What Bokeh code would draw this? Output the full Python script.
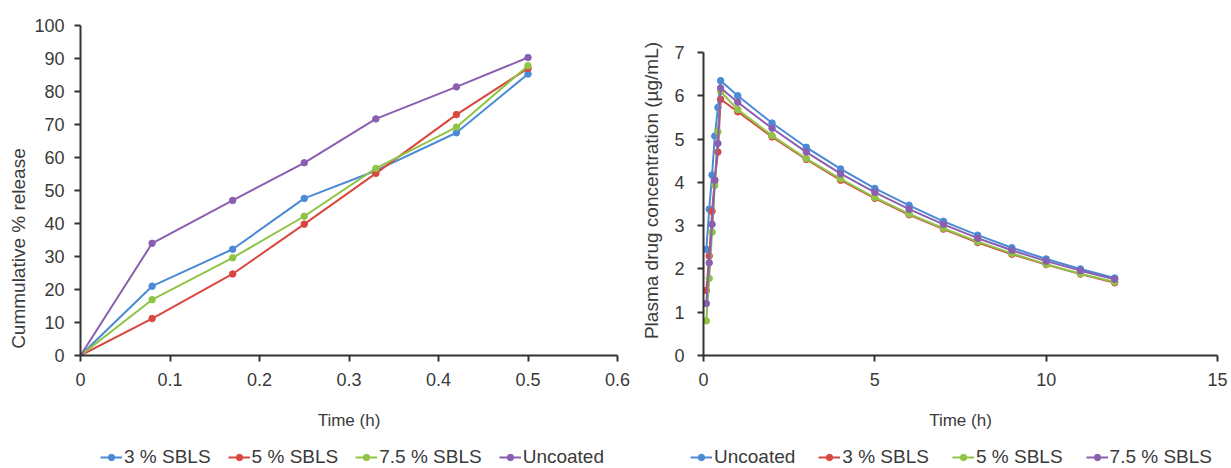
from bokeh.plotting import figure
from bokeh.layouts import row, column
from bokeh.models import Range1d, FixedTicker, Legend, LegendItem
from bokeh.embed import file_html
from bokeh.resources import INLINE

# ---- Left chart: in-vitro release ----
rel_time = [0, 0.08, 0.17, 0.25, 0.33, 0.42, 0.5]
rel_3 = [0, 21.0, 32.2, 47.6, 56.0, 67.5, 85.3]
rel_5 = [0, 11.2, 24.7, 39.8, 55.2, 73.0, 87.0]
rel_75 = [0, 16.9, 29.6, 42.2, 56.7, 69.2, 87.8]
rel_unc = [0, 34.0, 47.0, 58.4, 71.7, 81.4, 90.3]
rel_names = ["3 % SBLS", "5 % SBLS", "7.5 % SBLS", "Uncoated"]
rel_xticks = [0, 0.1, 0.2, 0.3, 0.4, 0.5, 0.6]
rel_yticks = [0, 10, 20, 30, 40, 50, 60, 70, 80, 90, 100]

# ---- Right chart: plasma concentration ----
pk_time = [0.083, 0.167, 0.25, 0.33, 0.42, 0.5, 1, 2, 3, 4, 5, 6, 7, 8, 9, 10, 11, 12]
pk_unc = [2.45, 3.38, 4.17, 5.07, 5.73, 6.35, 6.00, 5.37, 4.81, 4.31, 3.86, 3.47, 3.10, 2.78, 2.49, 2.23, 2.00, 1.79]
pk_3 = [1.50, 2.30, 3.33, 4.05, 4.70, 5.92, 5.63, 5.05, 4.53, 4.05, 3.63, 3.25, 2.92, 2.61, 2.34, 2.10, 1.88, 1.68]
pk_5 = [0.80, 1.78, 2.85, 3.93, 5.17, 6.10, 5.68, 5.08, 4.55, 4.08, 3.65, 3.27, 2.94, 2.63, 2.36, 2.11, 1.89, 1.70]
pk_75 = [1.20, 2.14, 3.03, 4.05, 4.90, 6.18, 5.85, 5.25, 4.70, 4.20, 3.77, 3.38, 3.03, 2.71, 2.43, 2.18, 1.96, 1.76]
pk_names = ["Uncoated", "3 % SBLS", "5 % SBLS", "7.5 % SBLS"]
pk_xticks = [0, 5, 10, 15]
pk_yticks = [0, 1, 2, 3, 4, 5, 6, 7]

BLUE = "#4a8ad6"
RED = "#d9473f"
GREEN = "#8fc446"
PURPLE = "#8a5fb0"

FONT = "Liberation Sans"
AXIS_COLOR = "#333333"
TEXT_COLOR = "#3a3a3a"


def style(p, xticks, yticks, xover=None):
    p.outline_line_color = None
    p.xgrid.grid_line_color = None
    p.ygrid.grid_line_color = None
    for ax in (p.xaxis[0], p.yaxis[0]):
        ax.axis_line_color = AXIS_COLOR
        ax.axis_line_width = 2
        ax.major_tick_line_color = AXIS_COLOR
        ax.major_tick_line_width = 2
        ax.major_tick_out = 6
        ax.major_tick_in = 0
        ax.minor_tick_line_color = None
        ax.major_label_text_font = FONT
        ax.major_label_text_font_size = "18px"
        ax.major_label_text_color = TEXT_COLOR
        ax.axis_label_text_font = FONT
        ax.axis_label_text_font_style = "normal"
        ax.axis_label_text_color = TEXT_COLOR
    p.xaxis[0].ticker = FixedTicker(ticks=xticks)
    p.yaxis[0].ticker = FixedTicker(ticks=yticks)
    if xover:
        p.xaxis[0].major_label_overrides = xover
    p.xaxis[0].axis_label_text_font_size = "17px"
    p.xaxis[0].major_label_standoff = 11
    p.xaxis[0].axis_label_standoff = 22
    p.yaxis[0].axis_label_text_font_size = "19px"


def draw(p, x, ys, colors):
    rs = []
    for y, c in zip(ys, colors):
        l = p.line(x, y, line_color=c, line_width=2)
        s = p.scatter(x, y, size=6.5, fill_color=c, line_color=c)
        rs.append([l, s])
    return rs


MAIN_H = 432
LEG_H = 36

# left chart
p1 = figure(width=630, height=MAIN_H, output_backend="svg", toolbar_location=None,
            x_range=Range1d(0, 0.6), y_range=Range1d(0, 100),
            min_border_left=80, min_border_right=13, min_border_top=25, min_border_bottom=75)
style(p1, rel_xticks, rel_yticks,
      xover={0: "0", 0.1: "0.1", 0.2: "0.2", 0.3: "0.3", 0.4: "0.4", 0.5: "0.5", 0.6: "0.6"})
p1.xaxis[0].axis_label = "Time (h)"
p1.yaxis[0].axis_label = "Cummulative % release" + "\u00a0" * 22
p1.yaxis[0].major_label_standoff = 10
p1.yaxis[0].axis_label_standoff = 2
draw(p1, rel_time, [rel_3, rel_5, rel_75, rel_unc], [BLUE, RED, GREEN, PURPLE])

# right chart (frame spans to the same height; axis line limited to 0..7)
p2 = figure(width=601, height=MAIN_H, output_backend="svg", toolbar_location=None,
            x_range=Range1d(0, 15), y_range=Range1d(0, 7 * 330 / 303),
            min_border_left=73, min_border_right=14, min_border_top=25, min_border_bottom=75)
style(p2, pk_xticks, pk_yticks)
p2.yaxis[0].bounds = (0, 7)
p2.xaxis[0].axis_label = "Time (h)"
p2.yaxis[0].axis_label = "Plasma drug concentration (µg/mL)"
p2.yaxis[0].major_label_standoff = 13
p2.yaxis[0].axis_label_standoff = 9
draw(p2, pk_time, [pk_unc, pk_3, pk_5, pk_75], [BLUE, RED, GREEN, PURPLE])

# legend strip below both charts (series drawn off-range so only legend glyphs show)
lg = figure(width=1231, height=LEG_H, output_backend="svg", toolbar_location=None,
            x_range=Range1d(-2, -1), y_range=Range1d(-2, -1),
            x_axis_type=None, y_axis_type=None,
            min_border_left=80, min_border_right=14, min_border_top=0, min_border_bottom=0)
lg.outline_line_color = None
lg.xgrid.grid_line_color = None
lg.ygrid.grid_line_color = None
r1 = draw(lg, rel_time, [rel_3, rel_5, rel_75, rel_unc], [BLUE, RED, GREEN, PURPLE])
r2 = draw(lg, pk_time, [pk_unc, pk_3, pk_5, pk_75], [BLUE, RED, GREEN, PURPLE])

legend_kw = dict(orientation="horizontal", border_line_color=None, background_fill_alpha=0,
                 label_text_font=FONT, label_text_font_size="19px", label_text_color=TEXT_COLOR,
                 glyph_width=22, glyph_height=16, label_standoff=2, padding=0, margin=0)
leg1 = Legend(items=[LegendItem(label=n, renderers=r) for n, r in zip(rel_names, r1)],
              location=(20, 0), spacing=17, **legend_kw)
leg2 = Legend(items=[LegendItem(label=n, renderers=r) for n, r in zip(pk_names, r2)],
              location=(610, 0), spacing=23, **legend_kw)
lg.add_layout(leg1)
lg.add_layout(leg2)

layout = column(row(p1, p2), lg)
open("out.html", "w").write(file_html(layout, INLINE))
